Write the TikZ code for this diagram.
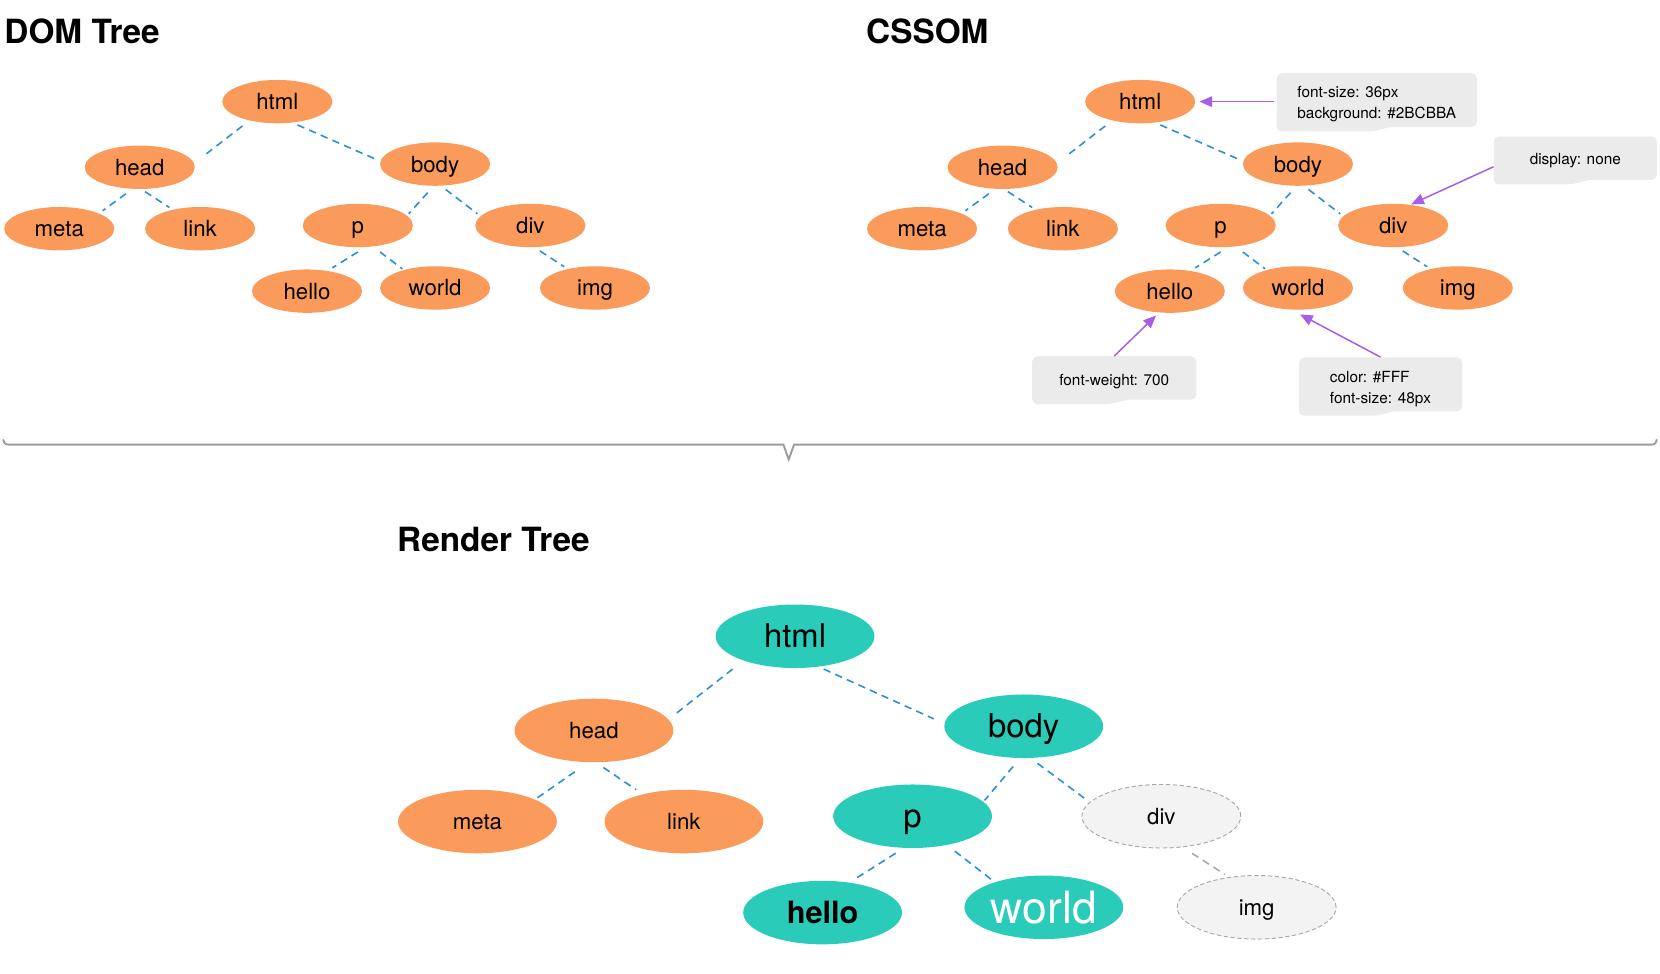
\documentclass[tikz,border=0pt]{standalone}
\usepackage{fontspec}
\setmainfont{TeX Gyre Heros}
\usetikzlibrary{shapes.geometric,arrows.meta,calc}
\pgfdeclarelayer{bg}
\pgfsetlayers{bg,main}
\definecolor{orangeN}{HTML}{FB9B5B}
\definecolor{tealN}{HTML}{2BCBBA}
\definecolor{blueC}{HTML}{2A8FDB}
\definecolor{purpleA}{HTML}{A65DE8}
\definecolor{boxgray}{HTML}{EBEBEB}
\definecolor{grayfill}{HTML}{F3F3F3}
\definecolor{graydash}{HTML}{A8A8A8}
\definecolor{sepgray}{HTML}{9C9C9C}
\newcommand\smalltree[2]{%
  \begin{scope}[xshift=#2]
  \node[small] (#1html)  at (262,96)  {html};
  \node[small] (#1head)  at (132,158) {head};
  \node[small] (#1body)  at (411,155) {body};
  \node[small] (#1meta)  at (56,216)  {meta};
  \node[small] (#1link)  at (189,216) {link};
  \node[small] (#1p)     at (338,213) {p};
  \node[small] (#1div)   at (501,213) {div};
  \node[small] (#1hello) at (290,275) {hello};
  \node[small] (#1world) at (411,272) {world};
  \node[small] (#1img)   at (562,272) {img};
  \end{scope}
  \draw[conn] ($(#1html)+(-33,23)$) -- ($(#1head)+(62,-12)$);
  \draw[conn] ($(#1html)+(19,22)$) -- ($(#1body)+(-57,-5)$);
  \draw[conn] ($(#1head)+(-13,25)$) -- ($(#1meta)+(41,-17)$);
  \draw[conn] ($(#1head)+(5,23)$) -- ($(#1link)+(-29,-20)$);
  \draw[conn] ($(#1body)+(-7,27)$) -- ($(#1p)+(48,-11)$);
  \draw[conn] ($(#1body)+(10,24)$) -- ($(#1div)+(-50,-11)$);
  \draw[conn] ($(#1p)+(0,25)$) -- ($(#1hello)+(24,-22)$);
  \draw[conn] ($(#1p)+(21,25)$) -- ($(#1world)+(-31,-18)$);
  \draw[conn] ($(#1div)+(9,24)$) -- ($(#1img)+(-29,-20)$);
}
\newcommand\boxtail[1]{%
  \begin{pgfonlayer}{bg}
  \fill[boxgray] ($(#1.south west)+(0,-8)$) [rounded corners=5pt] -- ($(#1.south west)+(0,4)$) -- ($(#1.south)+(-4,4)$) [sharp corners] -- ($(#1.south)+(12,0)$) -- ($(#1.south)+(12,-8)$) -- cycle;
  \end{pgfonlayer}}
\newcommand\lowtext[2]{\raisebox{-#1}[\height][\depth]{\begin{tabular}{@{}l@{}}#2\end{tabular}}}
\begin{document}
\begin{tikzpicture}[x=1pt,y=-1pt,
  small/.style={ellipse,fill=orangeN,minimum width=104pt,minimum height=41pt,inner sep=0pt,
    font=\fontsize{21}{25}\selectfont,text height=15pt,text depth=0pt},
  big/.style={ellipse,minimum width=150pt,minimum height=60pt,inner sep=0pt},
  bigorange/.style={big,fill=orangeN,font=\fontsize{21}{25}\selectfont,text height=15pt,text depth=0pt},
  bigteal/.style={big,fill=tealN,font=\fontsize{31}{36}\selectfont,text height=22pt,text depth=0pt},
  biggray/.style={big,fill=grayfill,draw=graydash,line width=0.9pt,dash pattern=on 4pt off 2.5pt,
    font=\fontsize{21}{25}\selectfont,text height=15pt,text depth=0pt},
  conn/.style={blueC,line width=1.5pt,dash pattern=on 7pt off 5pt},
  gconn/.style={graydash,line width=1.5pt,dash pattern=on 7pt off 5pt},
  parrow/.style={purpleA,line width=1.4pt,-{Triangle[length=12pt,width=10pt]}},
  cbox/.style={rectangle,fill=boxgray,rounded corners=5pt,inner sep=0pt,align=left,
    font=\fontsize{14.5}{20}\selectfont},
  title/.style={anchor=west,inner sep=0pt,font=\fontsize{31.5}{36}\selectfont\bfseries}
]
\useasboundingbox (0,0) rectangle (1568,920);

% titles
\node[title] (tdom) at (4,30) {DOM Tree};
\node[title] (tcss) at (818,30) {CSSOM};
\node[title] (trender) at (375,510) {Render Tree};

% DOM and CSSOM trees
\smalltree{d}{0pt}
\smalltree{c}{815pt}

% callout boxes
\node[cbox,minimum width=189pt,minimum height=51pt] (b1) at (1300.5,94.5) {\lowtext{3.5pt}{font-size: 36px\\background: \#2BCBBA}};
\boxtail{b1}
\node[cbox,minimum width=154pt,minimum height=41pt] (b2) at (1488,149.5) {\lowtext{2pt}{display: none}};
\boxtail{b2}
\node[cbox,minimum width=155pt,minimum height=41pt] (b3) at (1052.5,357) {\lowtext{3pt}{font-weight: 700}};
\boxtail{b3}
\node[cbox,minimum width=154pt,minimum height=51pt] (b4) at (1304,363) {\lowtext{4.5pt}{color: \#FFF\\font-size: 48px}};
\boxtail{b4}

\draw[parrow] ($(b1.west)+(-2,1.5)$) -- ($(chtml)+(56,0)$);
\draw[parrow] ($(b2.west)+(0,8)$) -- ($(cdiv)+(17,-20)$);
\draw[parrow] (b3.north) -- ($(chello)+(-13,23)$);
\draw[parrow] (b4.north) -- ($(cworld)+(2,25)$);

% separator
\draw[sepgray,line width=1.8pt,line join=miter] (3,415) .. controls (4,419) and (5,420) .. (9,420) -- (740,420) -- (745,434) -- (750,420) -- (1559,420) .. controls (1563,420) and (1564,419) .. (1565,415);

% render tree
\node[bigteal] (rhtml) at (751,601) {html};
\node[bigorange] (rhead) at (561,690) {head};
\node[bigteal] (rbody) at (967,686) {body};
\node[bigorange] (rmeta) at (451,776) {meta};
\node[bigorange] (rlink) at (646,776) {link};
\node[bigteal] (rp) at (862,771) {p};
\node[biggray] (rdiv) at (1097,771) {div};
\node[big,fill=tealN,font=\fontsize{29}{34}\selectfont\bfseries,text height=21pt,text depth=0pt] (rhello) at (777,862) {hello};
\node[big,fill=tealN,text=white,font=\fontsize{42}{48}\selectfont,text height=30pt,text depth=0pt] (rworld) at (986,857) {world};
\node[biggray] (rimg) at (1187,857) {img};

\draw[conn] ($(rhtml)+(-59,31)$) -- ($(rhead)+(75,-14)$);
\draw[conn] ($(rhtml)+(27,31)$) -- ($(rbody)+(-85,-7)$);
\draw[conn] ($(rhead)+(-18,39)$) -- ($(rmeta)+(56,-22)$);
\draw[conn] ($(rhead)+(9,35)$) -- ($(rlink)+(-45,-30)$);
\draw[conn] ($(rbody)+(-10,38)$) -- ($(rp)+(68,-15)$);
\draw[conn] ($(rbody)+(13,35)$) -- ($(rdiv)+(-70,-15)$);
\draw[conn] ($(rp)+(-16,35)$) -- ($(rhello)+(31,-32)$);
\draw[conn] ($(rp)+(40,33)$) -- ($(rworld)+(-48,-25)$);
\draw[gconn] ($(rdiv)+(29,35)$) -- ($(rimg)+(-30,-31)$);
\end{tikzpicture}
\end{document}
